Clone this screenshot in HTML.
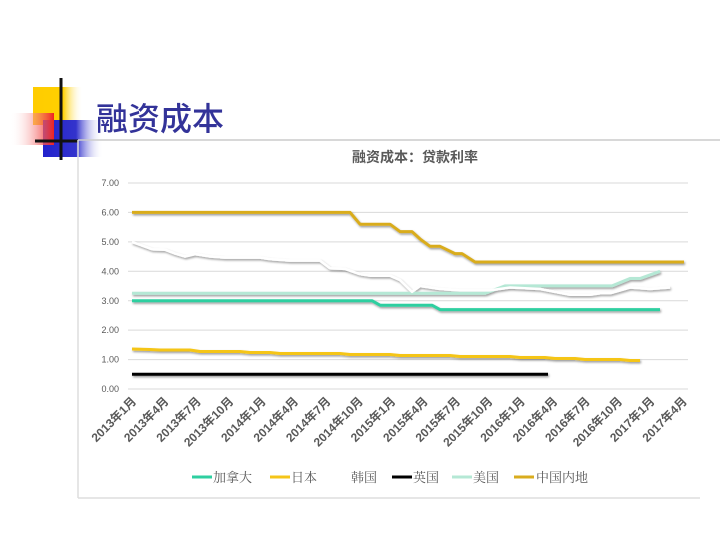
<!DOCTYPE html>
<html><head><meta charset="utf-8"><style>
body{margin:0;width:720px;height:540px;background:#fff;overflow:hidden;position:relative;font-family:"Liberation Sans","Noto Sans CJK SC",sans-serif}
</style></head><body>
<svg width="720" height="540" viewBox="0 0 720 540" style="position:absolute;left:0;top:0">
<defs>
<linearGradient id="gy" x1="0" x2="1"><stop offset="0" stop-color="#ffcc00"/><stop offset="0.6" stop-color="#ffd000"/><stop offset="1" stop-color="#fff" stop-opacity="0"/></linearGradient>
<linearGradient id="gr" x1="1" x2="0"><stop offset="0" stop-color="#ee2222"/><stop offset="1" stop-color="#fff" stop-opacity="0"/></linearGradient>
<linearGradient id="gb" x1="0" x2="1"><stop offset="0" stop-color="#2222cc"/><stop offset="0.55" stop-color="#3333cc"/><stop offset="1" stop-color="#fff" stop-opacity="0"/></linearGradient>
<filter id="sh"><feDropShadow dx="1" dy="1.5" stdDeviation="1" flood-color="#000" flood-opacity="0.4"/></filter>
</defs>
<rect x="33" y="87" width="50" height="38" fill="url(#gy)"/>
<rect x="43" y="120" width="60" height="37" fill="url(#gb)"/>
<rect x="10" y="113" width="44" height="32" fill="url(#gr)"/>
<line x1="61" y1="78" x2="61" y2="160" stroke="#111" stroke-width="3"/>
<line x1="35" y1="141" x2="78" y2="141" stroke="#111" stroke-width="3"/>
<line x1="78" y1="140" x2="720" y2="140" stroke="#ccc" stroke-width="1.5"/>
<line x1="78" y1="140" x2="78" y2="498" stroke="#ddd" stroke-width="1.5"/>
<line x1="78" y1="498" x2="700" y2="498" stroke="#ddd" stroke-width="1.5"/>
<text x="96" y="130" font-size="32" font-weight="500" fill="#333399" font-family="Noto Sans CJK SC, sans-serif">融资成本</text>
<text x="415" y="162" font-size="14" font-weight="bold" fill="#595959" text-anchor="middle">融资成本：贷款利率</text>
<g stroke="#d9d9d9" stroke-width="1">
<line x1="128" x2="688" y1="183" y2="183"/><line x1="128" x2="688" y1="212.4" y2="212.4"/><line x1="128" x2="688" y1="241.9" y2="241.9"/><line x1="128" x2="688" y1="271.3" y2="271.3"/><line x1="128" x2="688" y1="300.7" y2="300.7"/><line x1="128" x2="688" y1="330.1" y2="330.1"/><line x1="128" x2="688" y1="359.6" y2="359.6"/><line x1="128" x2="688" y1="389" y2="389"/>
</g>
<g font-size="9" fill="#595959" text-anchor="end">
<text x="119" y="186">7.00</text><text x="119" y="215.5">6.00</text><text x="119" y="245">5.00</text><text x="119" y="274.5">4.00</text><text x="119" y="304">3.00</text><text x="119" y="333">2.00</text><text x="119" y="362.5">1.00</text><text x="119" y="392">0.00</text>
</g>
<g fill="none" stroke-width="3" stroke-linejoin="round" filter="url(#sh)">
<polyline stroke="#000" points="132,374.3 548,374.3"/>
<polyline stroke="#f5c518" points="132,349 150,349.5 160,350 190,350 200,351.5 240,351.5 250,352.5 270,352.5 280,353.5 340,353.5 350,354.5 390,354.5 400,355.5 450,355.5 460,356.5 510,356.5 520,357.5 545,357.5 555,358.5 575,358.5 585,359.5 620,359.5 630,360.5 640,360.5"/>
<polyline stroke="#2ecfa0" points="132,300.7 372,300.7 380,305.2 432,305.2 440,309.6 660,309.6"/>
<polyline stroke="#b5e8d5" points="132,293.3 485,293.3 505,285.9 612,285.9 630,278.5 640,278.5 660,271.3"/>
<polyline stroke="#fff" stroke-width="2.5" points="132,241.9 140,244.8 152,249.2 165,249.7 175,253.6 185,256.5 195,254.1 210,256.5 225,257.6 260,257.6 270,259.1 290,260.6 320,260.6 330,268.3 345,268.9 360,274.2 370,275.7 390,275.7 400,280.1 412,291.9 420,286 440,289 460,290.4 490,290.4 510,287.5 540,289 570,294.8 590,294.8 600,293.3 610,293.3 630,287.5 650,289 670,287.5"/>
<polyline stroke="#d9ac1e" points="132,212.4 350,212.4 360,224.2 390,224.2 400,231.6 412,231.6 420,238.9 430,246.3 440,246.3 455,253.6 462,253.6 475,262 684,262"/>
</g>
<g font-size="12" font-weight="bold" fill="#595959">
<text transform="translate(137,402) rotate(-45)" text-anchor="end">2013年1月</text>
<text transform="translate(169.4,402) rotate(-45)" text-anchor="end">2013年4月</text>
<text transform="translate(201.8,402) rotate(-45)" text-anchor="end">2013年7月</text>
<text transform="translate(234.2,402) rotate(-45)" text-anchor="end">2013年10月</text>
<text transform="translate(266.6,402) rotate(-45)" text-anchor="end">2014年1月</text>
<text transform="translate(299,402) rotate(-45)" text-anchor="end">2014年4月</text>
<text transform="translate(331.4,402) rotate(-45)" text-anchor="end">2014年7月</text>
<text transform="translate(363.8,402) rotate(-45)" text-anchor="end">2014年10月</text>
<text transform="translate(396.2,402) rotate(-45)" text-anchor="end">2015年1月</text>
<text transform="translate(428.6,402) rotate(-45)" text-anchor="end">2015年4月</text>
<text transform="translate(461,402) rotate(-45)" text-anchor="end">2015年7月</text>
<text transform="translate(493.4,402) rotate(-45)" text-anchor="end">2015年10月</text>
<text transform="translate(525.8,402) rotate(-45)" text-anchor="end">2016年1月</text>
<text transform="translate(558.2,402) rotate(-45)" text-anchor="end">2016年4月</text>
<text transform="translate(590.6,402) rotate(-45)" text-anchor="end">2016年7月</text>
<text transform="translate(623,402) rotate(-45)" text-anchor="end">2016年10月</text>
<text transform="translate(655.4,402) rotate(-45)" text-anchor="end">2017年1月</text>
<text transform="translate(687.8,402) rotate(-45)" text-anchor="end">2017年4月</text>
</g>
<g font-size="13" fill="#595959" font-family="Liberation Serif, Noto Serif CJK SC, serif">
<line x1="192" x2="212" y1="477" y2="477" stroke="#2ecfa0" stroke-width="3"/><text x="213" y="482">加拿大</text>
<line x1="270" x2="290" y1="477" y2="477" stroke="#f5c518" stroke-width="3"/><text x="291" y="482">日本</text>
<text x="351" y="482">韩国</text>
<line x1="392" x2="412" y1="477" y2="477" stroke="#000" stroke-width="3"/><text x="413" y="482">英国</text>
<line x1="452" x2="472" y1="477" y2="477" stroke="#b5e8d5" stroke-width="3"/><text x="473" y="482">美国</text>
<line x1="514" x2="534" y1="477" y2="477" stroke="#d9ac1e" stroke-width="3"/><text x="536" y="482">中国内地</text>
</g>
</svg>
</body></html>
